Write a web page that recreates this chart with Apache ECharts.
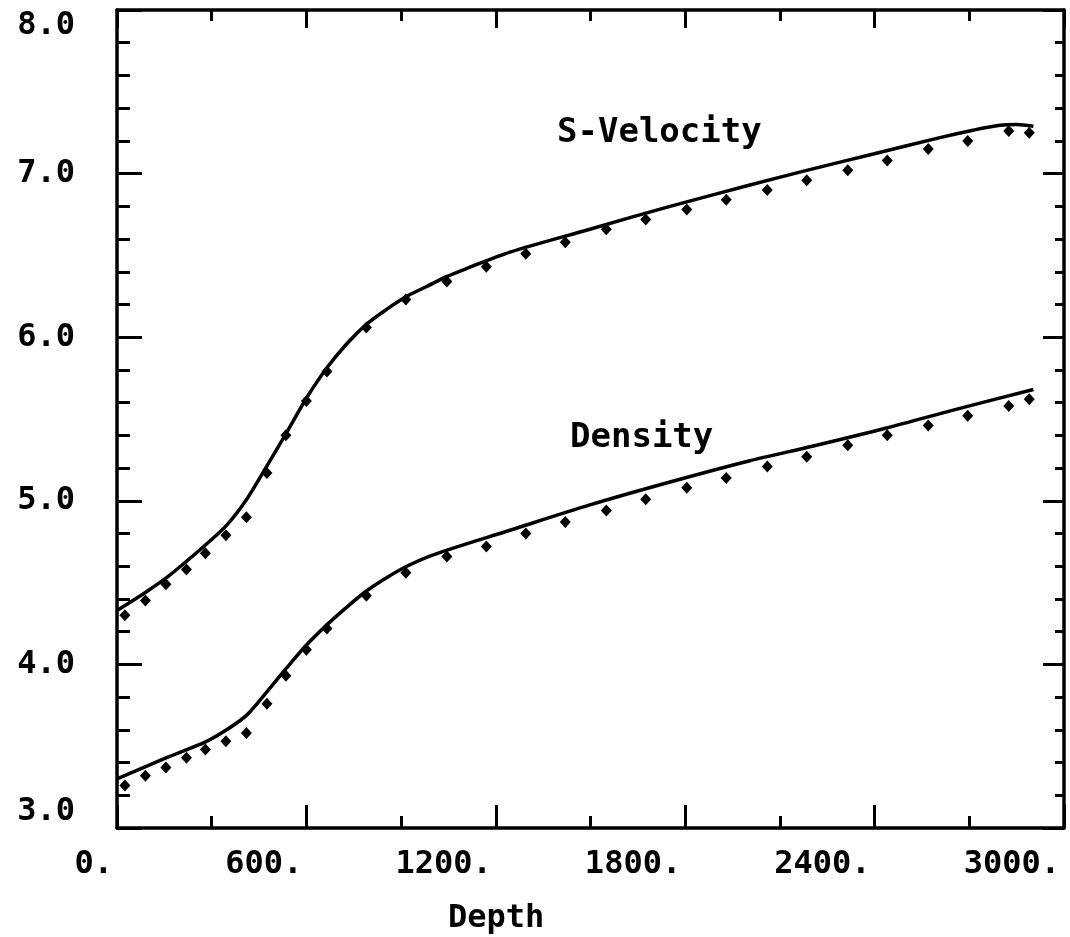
<!DOCTYPE html>
<html>
<head>
<meta charset="utf-8">
<title>S-Velocity and Density vs Depth</title>
<script src="https://cdn.jsdelivr.net/npm/echarts@6/dist/echarts.min.js"></script>
<style>
  html, body { margin: 0; padding: 0; background: #fff; }
  #chart { width: 1070px; height: 937px; }
</style>
</head>
<body>
<div id="chart"></div>
<script>
// Axis ticks and their printed labels
const depthTicks = [0, 600, 1200, 1800, 2400, 3000];
const depthTickLabels = ['0.', '600.', '1200.', '1800.', '2400.', '3000.'];
const valueTicks = [3, 4, 5, 6, 7, 8];
const valueTickLabels = ['3.0', '4.0', '5.0', '6.0', '7.0', '8.0'];

// Model curves (solid lines): depth, value
const velLineDepth = [0, 90, 157, 220, 280, 347, 411, 474, 538, 601, 664, 728, 791, 854, 918, 981, 1044, 1108, 1245, 1498, 1752, 2005, 2185, 2396, 2607, 2712, 2797, 2850, 2903];
const velLineValue = [4.33, 4.44, 4.53, 4.63, 4.73, 4.85, 5.01, 5.21, 5.42, 5.63, 5.81, 5.96, 6.08, 6.17, 6.25, 6.31, 6.37, 6.42, 6.52, 6.66, 6.80, 6.93, 7.02, 7.12, 7.22, 7.265, 7.295, 7.30, 7.29];

const denLineDepth = [0, 157, 284, 347, 411, 474, 538, 601, 664, 728, 791, 854, 918, 1002, 1245, 1498, 1752, 2005, 2206, 2438, 2670, 2903];
const denLineValue = [3.30, 3.43, 3.53, 3.60, 3.69, 3.83, 3.98, 4.12, 4.24, 4.35, 4.45, 4.53, 4.60, 4.67, 4.82, 4.975, 5.115, 5.245, 5.335, 5.445, 5.565, 5.68];

// Sampled values (dots)
const dotDepth = [25, 90, 155, 220, 280, 345, 410, 475, 535, 600, 665, 790, 915, 1045, 1170, 1295, 1420, 1550, 1675, 1805, 1930, 2060, 2185, 2315, 2440, 2570, 2695, 2825, 2890];
const velDots = [4.30, 4.39, 4.49, 4.58, 4.68, 4.79, 4.90, 5.17, 5.40, 5.61, 5.79, 6.06, 6.23, 6.34, 6.43, 6.51, 6.58, 6.66, 6.72, 6.78, 6.84, 6.90, 6.96, 7.02, 7.08, 7.15, 7.20, 7.26, 7.25];
const denDots = [3.26, 3.32, 3.37, 3.43, 3.48, 3.53, 3.58, 3.76, 3.93, 4.09, 4.22, 4.42, 4.56, 4.66, 4.72, 4.80, 4.87, 4.94, 5.01, 5.08, 5.14, 5.21, 5.27, 5.34, 5.40, 5.46, 5.52, 5.58, 5.62];

const pairs = (xs, ys) => xs.map((x, i) => [x, ys[i]]);

const FONT = 'DejaVu Sans Mono';
const ink = '#000';
const frameLine = { show: true, onZero: false, lineStyle: { color: ink, width: 3.5 } };
const tickStyle = { color: ink, width: 3 };
const labelStyle = { fontFamily: FONT, fontWeight: 'bold', fontSize: 32, color: ink };

const chart = echarts.init(document.getElementById('chart'), null, { renderer: 'canvas' });

chart.setOption({
  animation: false,
  backgroundColor: '#fff',
  grid: { left: 117, right: 6, top: 10, bottom: 109, containLabel: false },
  xAxis: [
    {
      type: 'value', position: 'bottom', min: 0, max: 3000, interval: 600,
      axisLine: frameLine,
      axisTick: { inside: true, length: 23, lineStyle: tickStyle },
      minorTick: { show: true, splitNumber: 2, length: 12, lineStyle: tickStyle },
      splitLine: { show: false },
      axisLabel: Object.assign({
        margin: 21, align: 'right', padding: [0, 4, 0, 0],
        showMinLabel: true, showMaxLabel: true,
        formatter: v => depthTickLabels[depthTicks.indexOf(v)] ?? ''
      }, labelStyle)
    },
    {
      type: 'value', position: 'top', min: 0, max: 3000, interval: 600,
      axisLine: frameLine,
      axisTick: { inside: true, length: 18, lineStyle: tickStyle },
      minorTick: { show: true, splitNumber: 2, length: 11, lineStyle: tickStyle },
      splitLine: { show: false },
      axisLabel: { show: false }
    }
  ],
  yAxis: [
    {
      type: 'value', position: 'left', min: 3, max: 8, interval: 1,
      axisLine: frameLine,
      axisTick: { inside: true, length: 25, lineStyle: tickStyle },
      minorTick: { show: true, splitNumber: 5, length: 13, lineStyle: tickStyle },
      splitLine: { show: false },
      axisLabel: Object.assign({
        margin: 42, showMinLabel: true, showMaxLabel: true,
        verticalAlignMaxLabel: 'top', verticalAlignMinLabel: 'bottom',
        formatter: v => valueTickLabels[valueTicks.indexOf(Math.round(v))] ?? ''
      }, labelStyle)
    },
    {
      type: 'value', position: 'right', min: 3, max: 8, interval: 1,
      axisLine: frameLine,
      axisTick: { inside: true, length: 21, lineStyle: tickStyle },
      minorTick: { show: true, splitNumber: 5, length: 9, lineStyle: tickStyle },
      splitLine: { show: false },
      axisLabel: { show: false }
    }
  ],
  graphic: [
    { type: 'text', left: 557, top: 116, style: { text: 'S-Velocity', font: 'bold 34px "DejaVu Sans Mono"', fill: ink } },
    { type: 'text', left: 570, top: 421, style: { text: 'Density', font: 'bold 34px "DejaVu Sans Mono"', fill: ink } },
    { type: 'text', left: 448, top: 903, style: { text: 'Depth', font: 'bold 32px "DejaVu Sans Mono"', fill: ink } }
  ],
  series: [
    {
      name: 'S-Velocity', type: 'line', xAxisIndex: 0, yAxisIndex: 0,
      data: pairs(velLineDepth, velLineValue), smooth: 0.3, symbol: 'none',
      lineStyle: { color: ink, width: 3.5 }
    },
    {
      name: 'S-Velocity samples', type: 'scatter', xAxisIndex: 0, yAxisIndex: 0,
      data: pairs(dotDepth, velDots), symbol: 'diamond', symbolSize: [11, 12],
      itemStyle: { color: ink, opacity: 1 }
    },
    {
      name: 'Density', type: 'line', xAxisIndex: 0, yAxisIndex: 0,
      data: pairs(denLineDepth, denLineValue), smooth: 0.3, symbol: 'none',
      lineStyle: { color: ink, width: 3.5 }
    },
    {
      name: 'Density samples', type: 'scatter', xAxisIndex: 0, yAxisIndex: 0,
      data: pairs(dotDepth, denDots), symbol: 'diamond', symbolSize: [11, 12],
      itemStyle: { color: ink, opacity: 1 }
    }
  ]
});
</script>
</body>
</html>
